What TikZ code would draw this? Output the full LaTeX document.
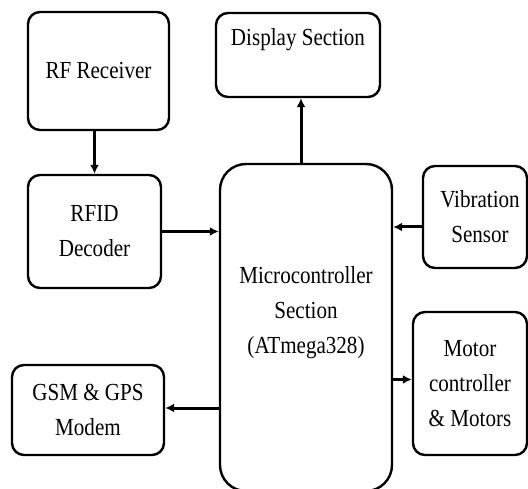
\documentclass[tikz,border=0pt]{standalone}
\usepackage{fontspec}
\setmainfont{Liberation Serif}[FakeStretch=0.86]
\usetikzlibrary{arrows.meta,positioning,calc}
\tikzstyle{box} = [rectangle, rounded corners=12pt, draw=black, line width=2.4pt, align=center, inner sep=0pt, font=\fontsize{24.5}{35}\selectfont]
\tikzstyle{arr} = [line width=3pt, -{Latex[length=9pt,width=9pt]}]

\begin{document}
\begin{tikzpicture}[x=1pt,y=-1pt]
				\useasboundingbox (0,0) rectangle (528,489);
				\node[box, minimum width=141pt, minimum height=118pt] (rf) at (98.5,71) {RF Receiver};
				\node[box, minimum width=164pt, minimum height=84pt] (disp) at (298,55) {Display Section\\ \mbox{}};
				\node[box, minimum width=133pt, minimum height=113pt] (rfid) at (94.5,231.5) {RFID\\ Decoder};
				\node[box, rounded corners=26pt, minimum width=172pt, minimum height=327pt] (micro) at (306,327.5) {
					Microcontroller\\ Section\\ (ATmega328)\\ \mbox{}};
				\node[box, minimum width=104pt, minimum height=102pt] (vib) at (475,217) {\hspace*{10pt}Vibration\\ \hspace*{10pt}Sensor};
				\node[box, minimum width=114pt, minimum height=143pt] (motor) at (470,383.5) {Motor\\ controller\\ \& Motors};
				\node[box, minimum width=152pt, minimum height=90pt] (gsm) at (88,410) {GSM \& GPS\\ Modem};
				
				\draw[arr] (rf.south -| rfid.north) -- (rfid.north);
				\draw[arr] (rfid.east) -- (rfid.east -| micro.west);
				\draw[arr] ([xshift=3pt]micro.north -| disp.south) -- ([xshift=3pt]disp.south);
				\draw[arr] ([yshift=-10pt]vib.west) -- ([yshift=-10pt]vib.west -| micro.east);
				\draw[arr] ([yshift=4pt]micro.east |- motor.west) -- ([yshift=4pt]motor.west);
				\draw[arr] ([yshift=2pt]micro.west |- gsm.east) -- ([yshift=2pt]gsm.east);
			\end{tikzpicture}
\end{document}
